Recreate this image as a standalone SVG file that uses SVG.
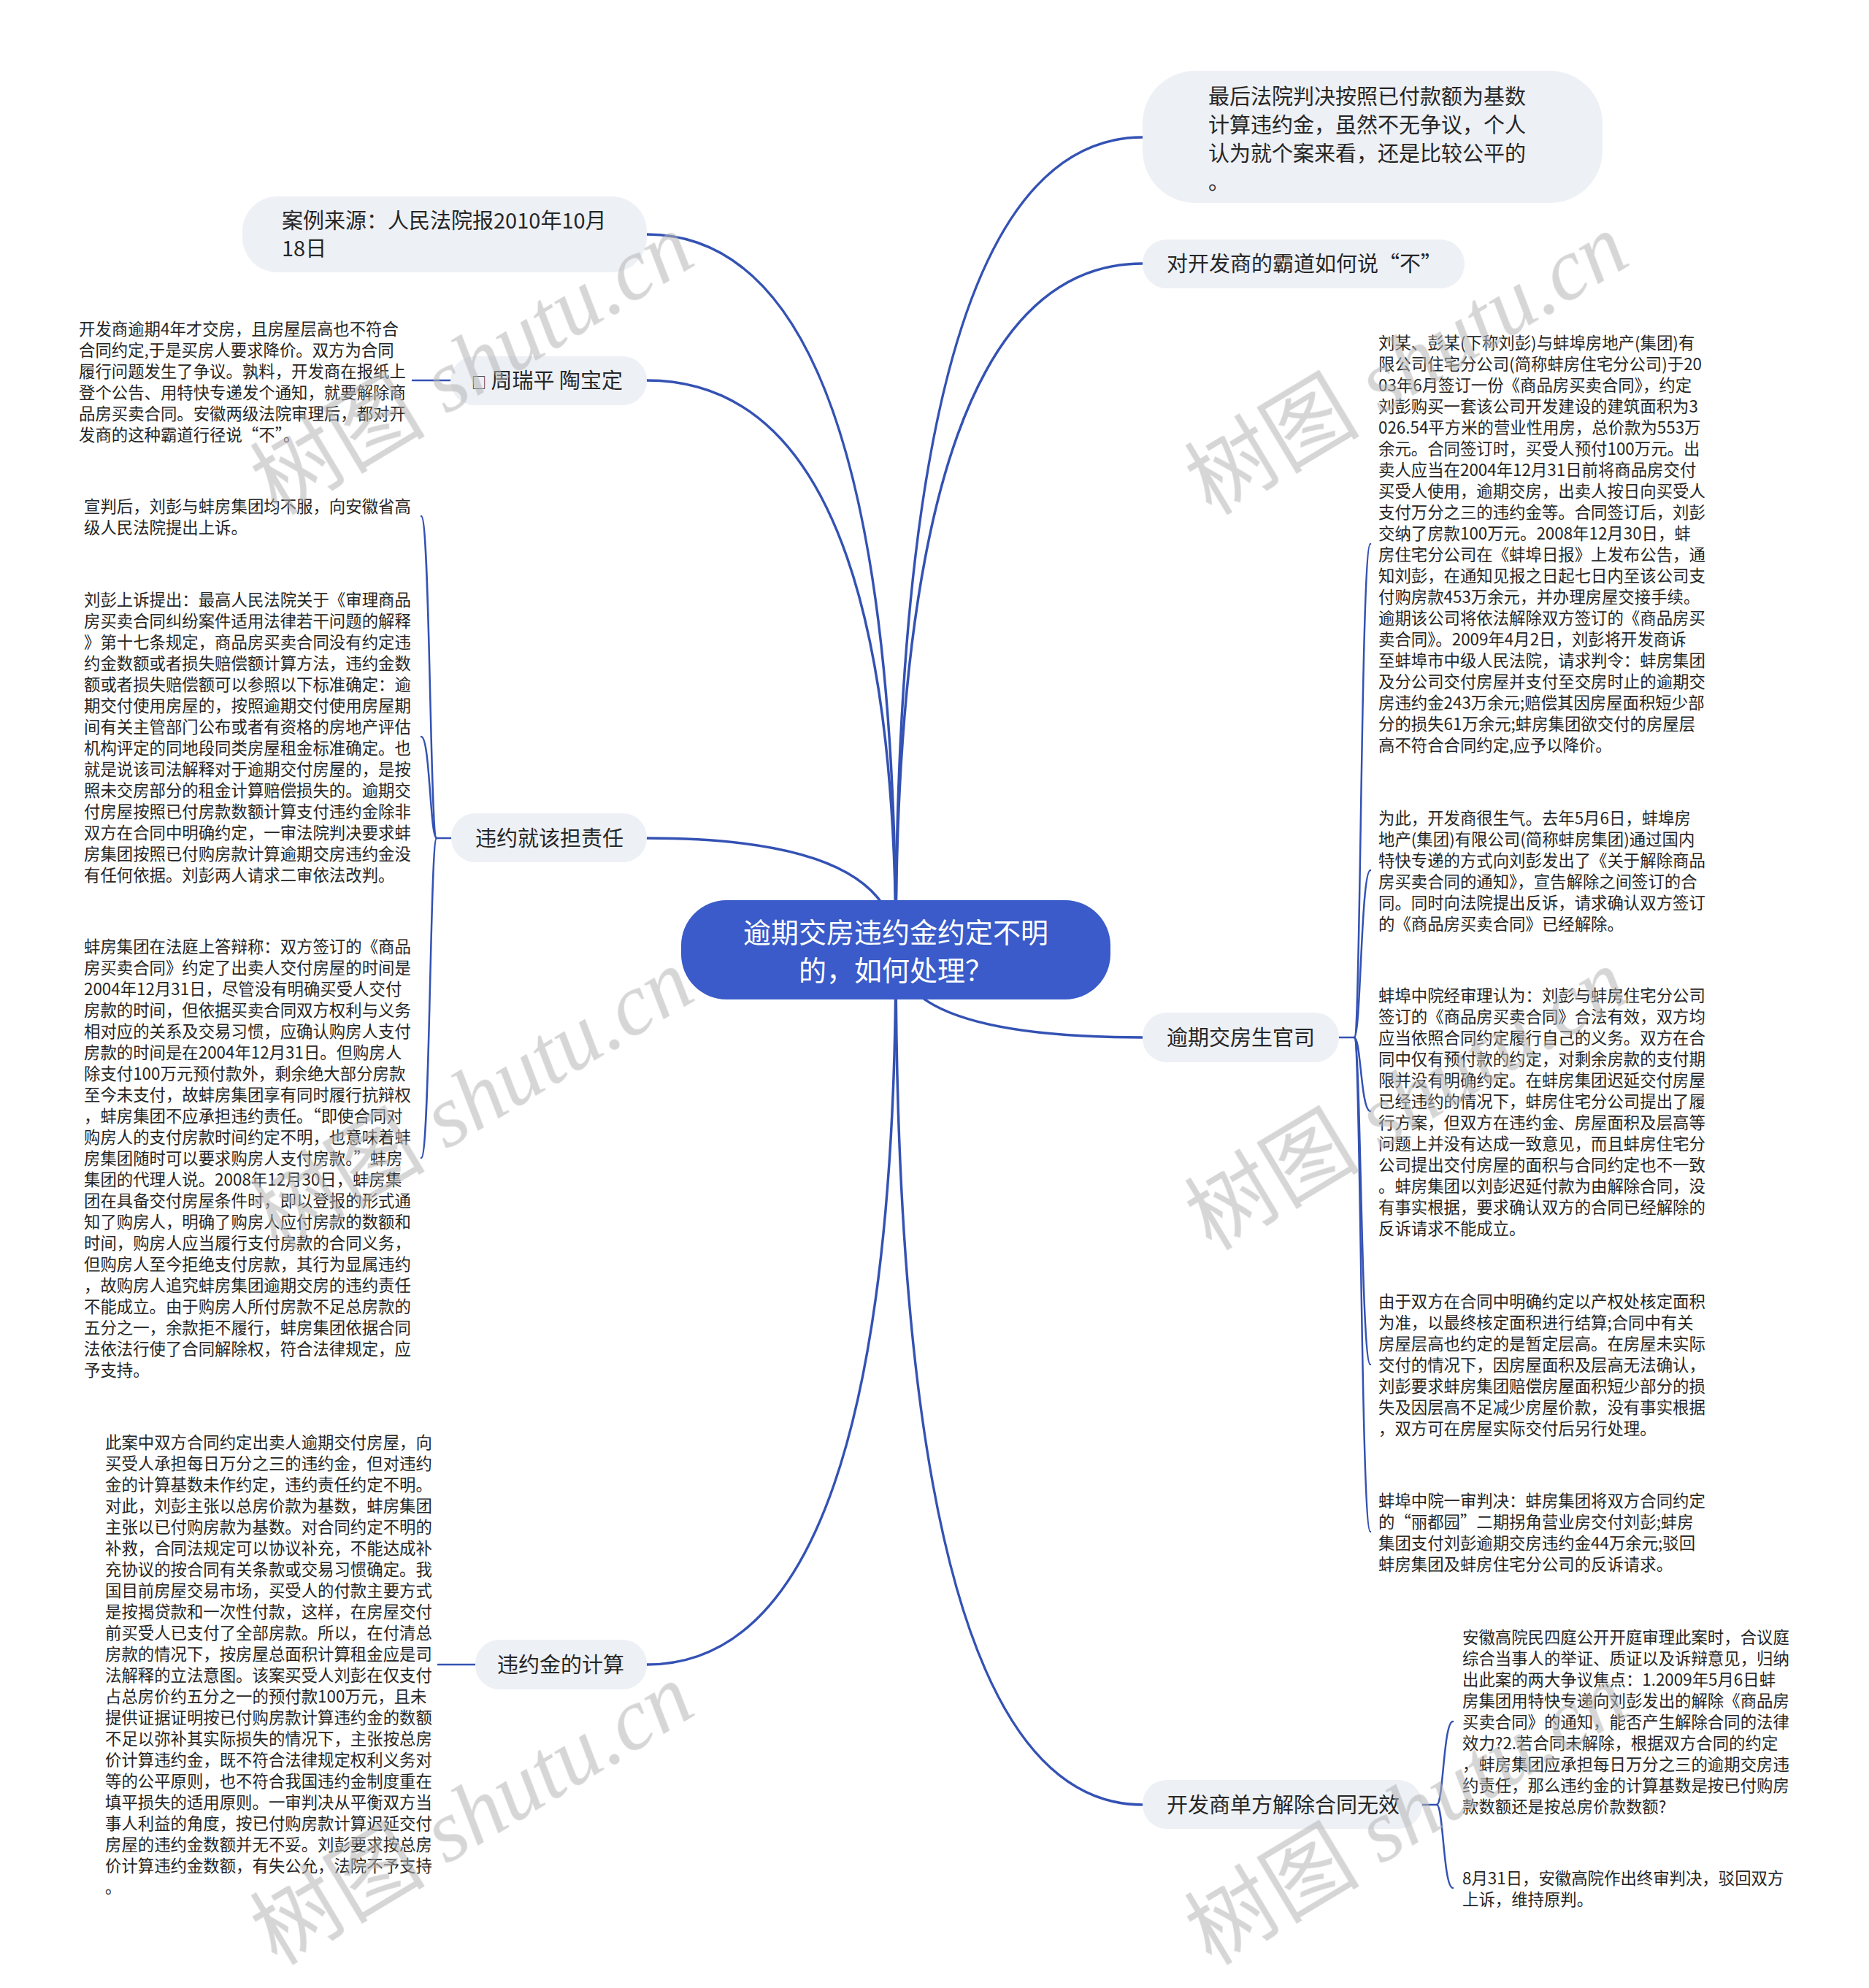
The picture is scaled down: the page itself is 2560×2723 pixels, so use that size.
<svg xmlns="http://www.w3.org/2000/svg" width="2560" height="2723" viewBox="0 0 2560 2723">
<style>
.bg{fill:#ffffff}
.node{fill:#edf0f5}
.root{fill:#3a5bc9}
.lbl{font-family:"Noto Sans CJK SC","Noto Sans",sans-serif;font-size:29px;fill:#262626}
.rootlbl{font-family:"Noto Sans CJK SC","Noto Sans",sans-serif;font-size:38px;fill:#ffffff;text-anchor:middle}
.txt{font-family:"Noto Sans CJK SC","Noto Sans",sans-serif;font-size:22.4px;fill:#262626}
.main{fill:none;stroke:#3452b4;stroke-width:3.5;stroke-linecap:round}
.sub{fill:none;stroke:#3452b4;stroke-width:2.5;stroke-linecap:round}
.wm{font-size:120px;fill:#b4b4b4;opacity:0.55}
.wmcn{font-family:"Noto Sans CJK SC",sans-serif}
.wmen{font-family:"Liberation Serif",serif;font-style:italic}
</style>
<rect class="bg" x="0" y="0" width="2560" height="2723"/>

<g id="connectors">
<path class="main" d="M1227,1301 Q1227,188 1565,188"/>
<path class="main" d="M1227,1301 Q1227,361 1565,361"/>
<path class="main" d="M1227,1301 Q1227,321 886,321"/>
<path class="main" d="M1227,1301 Q1227,521 886,521"/>
<path class="main" d="M1227,1301 Q1227,1148 886,1148"/>
<path class="main" d="M1227,1301 Q1227,1421 1565,1421"/>
<path class="main" d="M1227,1301 Q1227,2280 886,2280"/>
<path class="main" d="M1227,1301 Q1227,2472 1565,2472"/>
<path class="sub" d="M617,521 L565,521"/>
<path class="sub" d="M651,2280 L600,2280"/>
<path class="sub" d="M618,1148 L598,1148"/>
<path class="sub" d="M598,1148 C589,1148 589,707 577,707"/>
<path class="sub" d="M598,1148 C589,1148 589,1009 577,1009"/>
<path class="sub" d="M598,1148 C589,1148 589,1586 577,1586"/>
<path class="sub" d="M1834,1421 L1855,1421"/>
<path class="sub" d="M1855,1421 C1864,1421 1864,745 1877,745"/>
<path class="sub" d="M1855,1421 C1864,1421 1864,1192 1877,1192"/>
<path class="sub" d="M1855,1421 C1864,1421 1864,1522 1877,1522"/>
<path class="sub" d="M1855,1421 C1864,1421 1864,1869 1877,1869"/>
<path class="sub" d="M1855,1421 C1864,1421 1864,2098 1877,2098"/>
<path class="sub" d="M1948,2472 L1968,2472"/>
<path class="sub" d="M1968,2472 C1977,2472 1977,2358 1990,2358"/>
<path class="sub" d="M1968,2472 C1977,2472 1977,2586 1990,2586"/>
</g>

<g id="root">
<rect class="root" x="933" y="1233" width="588" height="136" rx="62"/>
<text class="rootlbl" x="1227" y="1291">逾期交房违约金约定不明</text>
<text class="rootlbl" x="1227" y="1343">的，如何处理？</text>
</g>

<g id="n-final">
<rect class="node" x="1565" y="97" width="630" height="181" rx="72"/>
<text class="lbl"><tspan x="1655" y="143">最后法院判决按照已付款额为基数</tspan><tspan x="1655" y="182">计算违约金，虽然不无争议，个人</tspan><tspan x="1655" y="221">认为就个案来看，还是比较公平的</tspan><tspan x="1655" y="260">。</tspan></text>
</g>

<g id="n-say-no">
<rect class="node" x="1565" y="328" width="441" height="67" rx="33"/>
<text class="lbl" x="1598" y="372">对开发商的霸道如何说“不”</text>
</g>

<g id="n-source">
<rect class="node" x="332" y="269" width="554" height="104" rx="48"/>
<text class="lbl"><tspan x="386" y="313">案例来源：人民法院报2010年10月</tspan><tspan x="386" y="351">18日</tspan></text>
</g>

<g id="n-author">
<rect class="node" x="617" y="488" width="269" height="67" rx="33"/>
<text class="lbl" x="646" y="532"><tspan font-size="20">□</tspan> 周瑞平 陶宝定</text>
</g>
<g id="t-author">
<text class="txt"><tspan x="108" y="458.5">开发商逾期4年才交房，且房屋层高也不符合</tspan><tspan x="108" dy="29">合同约定,于是买房人要求降价。双方为合同</tspan><tspan x="108" dy="29">履行问题发生了争议。孰料，开发商在报纸上</tspan><tspan x="108" dy="29">登个公告、用特快专递发个通知，就要解除商</tspan><tspan x="108" dy="29">品房买卖合同。安徽两级法院审理后，都对开</tspan><tspan x="108" dy="29">发商的这种霸道行径说“不”。</tspan></text>
</g>

<g id="n-liability">
<rect class="node" x="618" y="1114" width="268" height="67" rx="33"/>
<text class="lbl" x="651" y="1159">违约就该担责任</text>
</g>
<g id="t-liability-1">
<text class="txt"><tspan x="115" y="701.5">宣判后，刘彭与蚌房集团均不服，向安徽省高</tspan><tspan x="115" dy="29">级人民法院提出上诉。</tspan></text>
</g>
<g id="t-liability-2">
<text class="txt"><tspan x="115" y="829.5">刘彭上诉提出：最高人民法院关于《审理商品</tspan><tspan x="115" dy="29">房买卖合同纠纷案件适用法律若干问题的解释</tspan><tspan x="115" dy="29">》第十七条规定，商品房买卖合同没有约定违</tspan><tspan x="115" dy="29">约金数额或者损失赔偿额计算方法，违约金数</tspan><tspan x="115" dy="29">额或者损失赔偿额可以参照以下标准确定：逾</tspan><tspan x="115" dy="29">期交付使用房屋的，按照逾期交付使用房屋期</tspan><tspan x="115" dy="29">间有关主管部门公布或者有资格的房地产评估</tspan><tspan x="115" dy="29">机构评定的同地段同类房屋租金标准确定。也</tspan><tspan x="115" dy="29">就是说该司法解释对于逾期交付房屋的，是按</tspan><tspan x="115" dy="29">照未交房部分的租金计算赔偿损失的。逾期交</tspan><tspan x="115" dy="29">付房屋按照已付房款数额计算支付违约金除非</tspan><tspan x="115" dy="29">双方在合同中明确约定，一审法院判决要求蚌</tspan><tspan x="115" dy="29">房集团按照已付购房款计算逾期交房违约金没</tspan><tspan x="115" dy="29">有任何依据。刘彭两人请求二审依法改判。</tspan></text>
</g>
<g id="t-liability-3">
<text class="txt"><tspan x="115" y="1304.5">蚌房集团在法庭上答辩称：双方签订的《商品</tspan><tspan x="115" dy="29">房买卖合同》约定了出卖人交付房屋的时间是</tspan><tspan x="115" dy="29">2004年12月31日，尽管没有明确买受人交付</tspan><tspan x="115" dy="29">房款的时间，但依据买卖合同双方权利与义务</tspan><tspan x="115" dy="29">相对应的关系及交易习惯，应确认购房人支付</tspan><tspan x="115" dy="29">房款的时间是在2004年12月31日。但购房人</tspan><tspan x="115" dy="29">除支付100万元预付款外，剩余绝大部分房款</tspan><tspan x="115" dy="29">至今未支付，故蚌房集团享有同时履行抗辩权</tspan><tspan x="115" dy="29">，蚌房集团不应承担违约责任。“即使合同对</tspan><tspan x="115" dy="29">购房人的支付房款时间约定不明，也意味着蚌</tspan><tspan x="115" dy="29">房集团随时可以要求购房人支付房款。”蚌房</tspan><tspan x="115" dy="29">集团的代理人说。2008年12月30日，蚌房集</tspan><tspan x="115" dy="29">团在具备交付房屋条件时，即以登报的形式通</tspan><tspan x="115" dy="29">知了购房人，明确了购房人应付房款的数额和</tspan><tspan x="115" dy="29">时间，购房人应当履行支付房款的合同义务，</tspan><tspan x="115" dy="29">但购房人至今拒绝支付房款，其行为显属违约</tspan><tspan x="115" dy="29">，故购房人追究蚌房集团逾期交房的违约责任</tspan><tspan x="115" dy="29">不能成立。由于购房人所付房款不足总房款的</tspan><tspan x="115" dy="29">五分之一，余款拒不履行，蚌房集团依据合同</tspan><tspan x="115" dy="29">法依法行使了合同解除权，符合法律规定，应</tspan><tspan x="115" dy="29">予支持。</tspan></text>
</g>

<g id="n-calc">
<rect class="node" x="651" y="2246" width="235" height="68" rx="33"/>
<text class="lbl" x="681" y="2291">违约金的计算</text>
</g>
<g id="t-calc">
<text class="txt"><tspan x="144" y="1983.5">此案中双方合同约定出卖人逾期交付房屋，向</tspan><tspan x="144" dy="29">买受人承担每日万分之三的违约金，但对违约</tspan><tspan x="144" dy="29">金的计算基数未作约定，违约责任约定不明。</tspan><tspan x="144" dy="29">对此，刘彭主张以总房价款为基数，蚌房集团</tspan><tspan x="144" dy="29">主张以已付购房款为基数。对合同约定不明的</tspan><tspan x="144" dy="29">补救，合同法规定可以协议补充，不能达成补</tspan><tspan x="144" dy="29">充协议的按合同有关条款或交易习惯确定。我</tspan><tspan x="144" dy="29">国目前房屋交易市场，买受人的付款主要方式</tspan><tspan x="144" dy="29">是按揭贷款和一次性付款，这样，在房屋交付</tspan><tspan x="144" dy="29">前买受人已支付了全部房款。所以，在付清总</tspan><tspan x="144" dy="29">房款的情况下，按房屋总面积计算租金应是司</tspan><tspan x="144" dy="29">法解释的立法意图。该案买受人刘彭在仅支付</tspan><tspan x="144" dy="29">占总房价约五分之一的预付款100万元，且未</tspan><tspan x="144" dy="29">提供证据证明按已付购房款计算违约金的数额</tspan><tspan x="144" dy="29">不足以弥补其实际损失的情况下，主张按总房</tspan><tspan x="144" dy="29">价计算违约金，既不符合法律规定权利义务对</tspan><tspan x="144" dy="29">等的公平原则，也不符合我国违约金制度重在</tspan><tspan x="144" dy="29">填平损失的适用原则。一审判决从平衡双方当</tspan><tspan x="144" dy="29">事人利益的角度，按已付购房款计算迟延交付</tspan><tspan x="144" dy="29">房屋的违约金数额并无不妥。刘彭要求按总房</tspan><tspan x="144" dy="29">价计算违约金数额，有失公允，法院不予支持</tspan><tspan x="144" dy="29">。</tspan></text>
</g>

<g id="n-lawsuit">
<rect class="node" x="1565" y="1387" width="269" height="68" rx="33"/>
<text class="lbl" x="1598" y="1432">逾期交房生官司</text>
</g>
<g id="t-lawsuit-1">
<text class="txt"><tspan x="1888" y="477.5">刘某、彭某(下称刘彭)与蚌埠房地产(集团)有</tspan><tspan x="1888" dy="29">限公司住宅分公司(简称蚌房住宅分公司)于20</tspan><tspan x="1888" dy="29">03年6月签订一份《商品房买卖合同》，约定</tspan><tspan x="1888" dy="29">刘彭购买一套该公司开发建设的建筑面积为3</tspan><tspan x="1888" dy="29">026.54平方米的营业性用房，总价款为553万</tspan><tspan x="1888" dy="29">余元。合同签订时，买受人预付100万元。出</tspan><tspan x="1888" dy="29">卖人应当在2004年12月31日前将商品房交付</tspan><tspan x="1888" dy="29">买受人使用，逾期交房，出卖人按日向买受人</tspan><tspan x="1888" dy="29">支付万分之三的违约金等。合同签订后，刘彭</tspan><tspan x="1888" dy="29">交纳了房款100万元。2008年12月30日，蚌</tspan><tspan x="1888" dy="29">房住宅分公司在《蚌埠日报》上发布公告，通</tspan><tspan x="1888" dy="29">知刘彭，在通知见报之日起七日内至该公司支</tspan><tspan x="1888" dy="29">付购房款453万余元，并办理房屋交接手续。</tspan><tspan x="1888" dy="29">逾期该公司将依法解除双方签订的《商品房买</tspan><tspan x="1888" dy="29">卖合同》。2009年4月2日，刘彭将开发商诉</tspan><tspan x="1888" dy="29">至蚌埠市中级人民法院，请求判令：蚌房集团</tspan><tspan x="1888" dy="29">及分公司交付房屋并支付至交房时止的逾期交</tspan><tspan x="1888" dy="29">房违约金243万余元;赔偿其因房屋面积短少部</tspan><tspan x="1888" dy="29">分的损失61万余元;蚌房集团欲交付的房屋层</tspan><tspan x="1888" dy="29">高不符合合同约定,应予以降价。</tspan></text>
</g>
<g id="t-lawsuit-2">
<text class="txt"><tspan x="1888" y="1128.5">为此，开发商很生气。去年5月6日，蚌埠房</tspan><tspan x="1888" dy="29">地产(集团)有限公司(简称蚌房集团)通过国内</tspan><tspan x="1888" dy="29">特快专递的方式向刘彭发出了《关于解除商品</tspan><tspan x="1888" dy="29">房买卖合同的通知》，宣告解除之间签订的合</tspan><tspan x="1888" dy="29">同。同时向法院提出反诉，请求确认双方签订</tspan><tspan x="1888" dy="29">的《商品房买卖合同》已经解除。</tspan></text>
</g>
<g id="t-lawsuit-3">
<text class="txt"><tspan x="1888" y="1371.5">蚌埠中院经审理认为：刘彭与蚌房住宅分公司</tspan><tspan x="1888" dy="29">签订的《商品房买卖合同》合法有效，双方均</tspan><tspan x="1888" dy="29">应当依照合同约定履行自己的义务。双方在合</tspan><tspan x="1888" dy="29">同中仅有预付款的约定，对剩余房款的支付期</tspan><tspan x="1888" dy="29">限并没有明确约定。在蚌房集团迟延交付房屋</tspan><tspan x="1888" dy="29">已经违约的情况下，蚌房住宅分公司提出了履</tspan><tspan x="1888" dy="29">行方案，但双方在违约金、房屋面积及层高等</tspan><tspan x="1888" dy="29">问题上并没有达成一致意见，而且蚌房住宅分</tspan><tspan x="1888" dy="29">公司提出交付房屋的面积与合同约定也不一致</tspan><tspan x="1888" dy="29">。蚌房集团以刘彭迟延付款为由解除合同，没</tspan><tspan x="1888" dy="29">有事实根据，要求确认双方的合同已经解除的</tspan><tspan x="1888" dy="29">反诉请求不能成立。</tspan></text>
</g>
<g id="t-lawsuit-4">
<text class="txt"><tspan x="1888" y="1790.5">由于双方在合同中明确约定以产权处核定面积</tspan><tspan x="1888" dy="29">为准，以最终核定面积进行结算;合同中有关</tspan><tspan x="1888" dy="29">房屋层高也约定的是暂定层高。在房屋未实际</tspan><tspan x="1888" dy="29">交付的情况下，因房屋面积及层高无法确认，</tspan><tspan x="1888" dy="29">刘彭要求蚌房集团赔偿房屋面积短少部分的损</tspan><tspan x="1888" dy="29">失及因层高不足减少房屋价款，没有事实根据</tspan><tspan x="1888" dy="29">，双方可在房屋实际交付后另行处理。</tspan></text>
</g>
<g id="t-lawsuit-5">
<text class="txt"><tspan x="1888" y="2063.5">蚌埠中院一审判决：蚌房集团将双方合同约定</tspan><tspan x="1888" dy="29">的“丽都园”二期拐角营业房交付刘彭;蚌房</tspan><tspan x="1888" dy="29">集团支付刘彭逾期交房违约金44万余元;驳回</tspan><tspan x="1888" dy="29">蚌房集团及蚌房住宅分公司的反诉请求。</tspan></text>
</g>

<g id="n-invalid">
<rect class="node" x="1565" y="2438" width="383" height="67" rx="33"/>
<text class="lbl" x="1598" y="2483">开发商单方解除合同无效</text>
</g>
<g id="t-invalid-1">
<text class="txt"><tspan x="2003" y="2250.5">安徽高院民四庭公开开庭审理此案时，合议庭</tspan><tspan x="2003" dy="29">综合当事人的举证、质证以及诉辩意见，归纳</tspan><tspan x="2003" dy="29">出此案的两大争议焦点：1.2009年5月6日蚌</tspan><tspan x="2003" dy="29">房集团用特快专递向刘彭发出的解除《商品房</tspan><tspan x="2003" dy="29">买卖合同》的通知，能否产生解除合同的法律</tspan><tspan x="2003" dy="29">效力?2.若合同未解除，根据双方合同的约定</tspan><tspan x="2003" dy="29">，蚌房集团应承担每日万分之三的逾期交房违</tspan><tspan x="2003" dy="29">约责任，那么违约金的计算基数是按已付购房</tspan><tspan x="2003" dy="29">款数额还是按总房价款数额?</tspan></text>
</g>
<g id="t-invalid-2">
<text class="txt"><tspan x="2003" y="2580.5">8月31日，安徽高院作出终审判决，驳回双方</tspan><tspan x="2003" dy="29">上诉，维持原判。</tspan></text>
</g>

<g id="watermarks" class="wm">
<text transform="translate(668,534) rotate(-31)" text-anchor="middle"><tspan class="wmcn">树图</tspan><tspan class="wmen"> shutu.cn</tspan></text>
<text transform="translate(668,1541) rotate(-31)" text-anchor="middle"><tspan class="wmcn">树图</tspan><tspan class="wmen"> shutu.cn</tspan></text>
<text transform="translate(668,2520) rotate(-31)" text-anchor="middle"><tspan class="wmcn">树图</tspan><tspan class="wmen"> shutu.cn</tspan></text>
<text transform="translate(1948,534) rotate(-31)" text-anchor="middle"><tspan class="wmcn">树图</tspan><tspan class="wmen"> shutu.cn</tspan></text>
<text transform="translate(1948,1541) rotate(-31)" text-anchor="middle"><tspan class="wmcn">树图</tspan><tspan class="wmen"> shutu.cn</tspan></text>
<text transform="translate(1948,2520) rotate(-31)" text-anchor="middle"><tspan class="wmcn">树图</tspan><tspan class="wmen"> shutu.cn</tspan></text>
</g>
</svg>
